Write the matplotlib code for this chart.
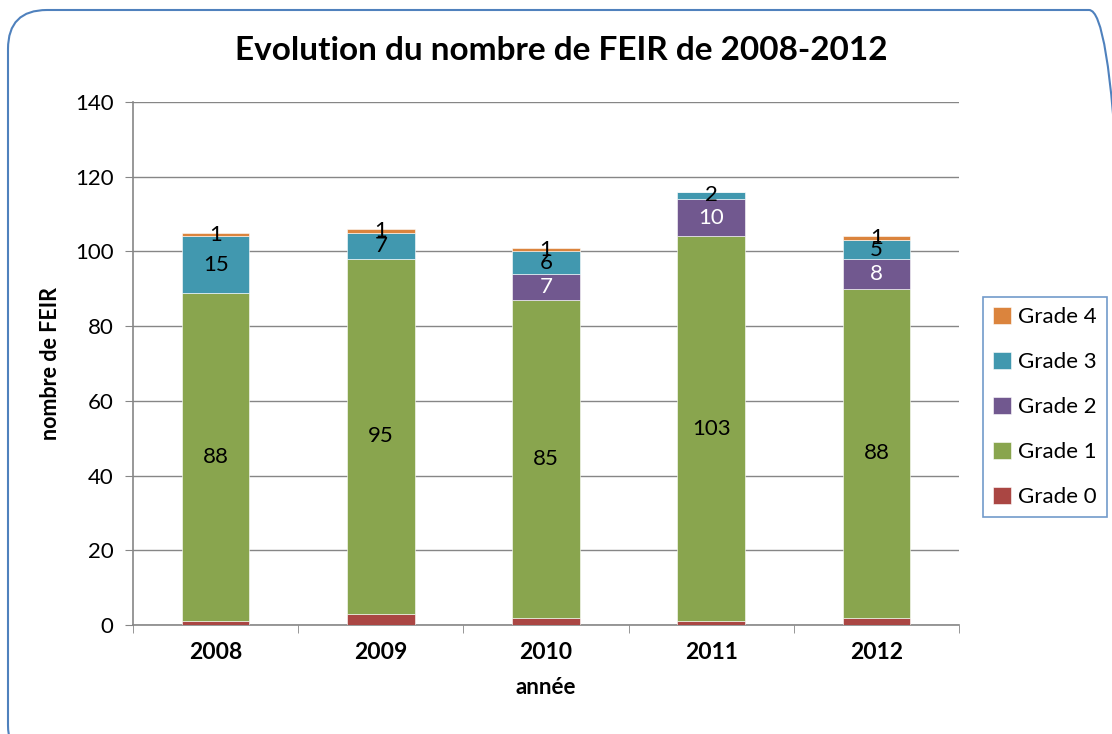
import numpy as np
import matplotlib.pyplot as plt
from matplotlib.patches import FancyBboxPatch

plt.rcParams['font.family'] = ['Lato', 'DejaVu Sans']

years = ["2008", "2009", "2010", "2011", "2012"]
grade0 = [1, 3, 2, 1, 2]
grade1 = [88, 95, 85, 103, 88]
grade2 = [0, 0, 7, 10, 8]
grade3 = [15, 7, 6, 2, 5]
grade4 = [1, 1, 1, 0, 1]

series = [("Grade 0", grade0, "#AA4643", None),
          ("Grade 1", grade1, "#89A54E", "black"),
          ("Grade 2", grade2, "#71588F", "white"),
          ("Grade 3", grade3, "#4198AF", "black"),
          ("Grade 4", grade4, "#DB843D", "black")]

fig = plt.figure(figsize=(11.12, 7.34), dpi=100)
ax = fig.add_axes([133 / 1112, 1 - 625 / 734, (959 - 133) / 1112, (625 - 102) / 734])

# rounded chart border (partly outside the picture, like the original)
border = FancyBboxPatch((8 / 1112, -30 / 734), 1120 / 1112, 754 / 734,
                        boxstyle="round,pad=0,rounding_size=0.035",
                        transform=fig.transFigure, fill=False,
                        edgecolor="#4F81BD", linewidth=1.5, clip_on=False,
                        mutation_aspect=1112 / 734)
fig.patches.append(border)

x = np.arange(len(years))
bottom = np.zeros(len(years))
handles = []
for name, vals, color, lab_color in series:
    vals = np.array(vals, dtype=float)
    bars = ax.bar(x, vals, width=0.41, bottom=bottom, color=color,
                  edgecolor="white", linewidth=0.4, label=name, zorder=3)
    handles.append(bars)
    if lab_color is not None:
        for xi, v, b in zip(x, vals, bottom):
            if v > 0:
                ax.text(xi, b + v / 2, f"{int(v)}", ha="center", va="center",
                        fontsize=16, color=lab_color, zorder=4)
    bottom += vals

ax.set_xlim(-0.5, len(years) - 0.5)
ax.set_ylim(0, 140)
ax.set_yticks(range(0, 141, 20))
ax.set_xticks(x)
ax.set_xticklabels(years, fontsize=16.5, fontweight="bold")
ax.set_xticks(np.arange(-0.5, len(years)), minor=True)
ax.tick_params(axis="x", which="major", length=0, pad=12)
ax.tick_params(axis="x", which="minor", length=6, color="#868686", direction="out")
ax.tick_params(axis="y", length=6, color="#868686", labelsize=16, pad=8)
ax.grid(axis="y", color="#868686", linewidth=1, zorder=0)
for side in ["top", "right"]:
    ax.spines[side].set_visible(False)
for side in ["left", "bottom"]:
    ax.spines[side].set_color("#868686")
    ax.spines[side].set_linewidth(1.2)

ax.set_xlabel("année", fontsize=16, fontweight="bold", labelpad=10)
ax.set_ylabel("nombre de FEIR", fontsize=15.5, fontweight="bold", labelpad=10)
fig.text(0.505, 1 - 51 / 734, "Evolution du nombre de FEIR de 2008-2012",
         ha="center", va="center", fontsize=24, fontweight="bold")

leg = fig.legend(handles[::-1], [s[0] for s in series][::-1],
                 loc="center", bbox_to_anchor=(1045 / 1112, 1 - 407 / 734),
                 fontsize=16, frameon=True, fancybox=False,
                 handlelength=0.8, handleheight=0.8, labelspacing=1.12,
                 borderpad=0.45, handletextpad=0.3, borderaxespad=0)
leg.get_frame().set_edgecolor("#4F81BD")
leg.get_frame().set_linewidth(1.2)

fig.savefig("out.png", dpi=100)
